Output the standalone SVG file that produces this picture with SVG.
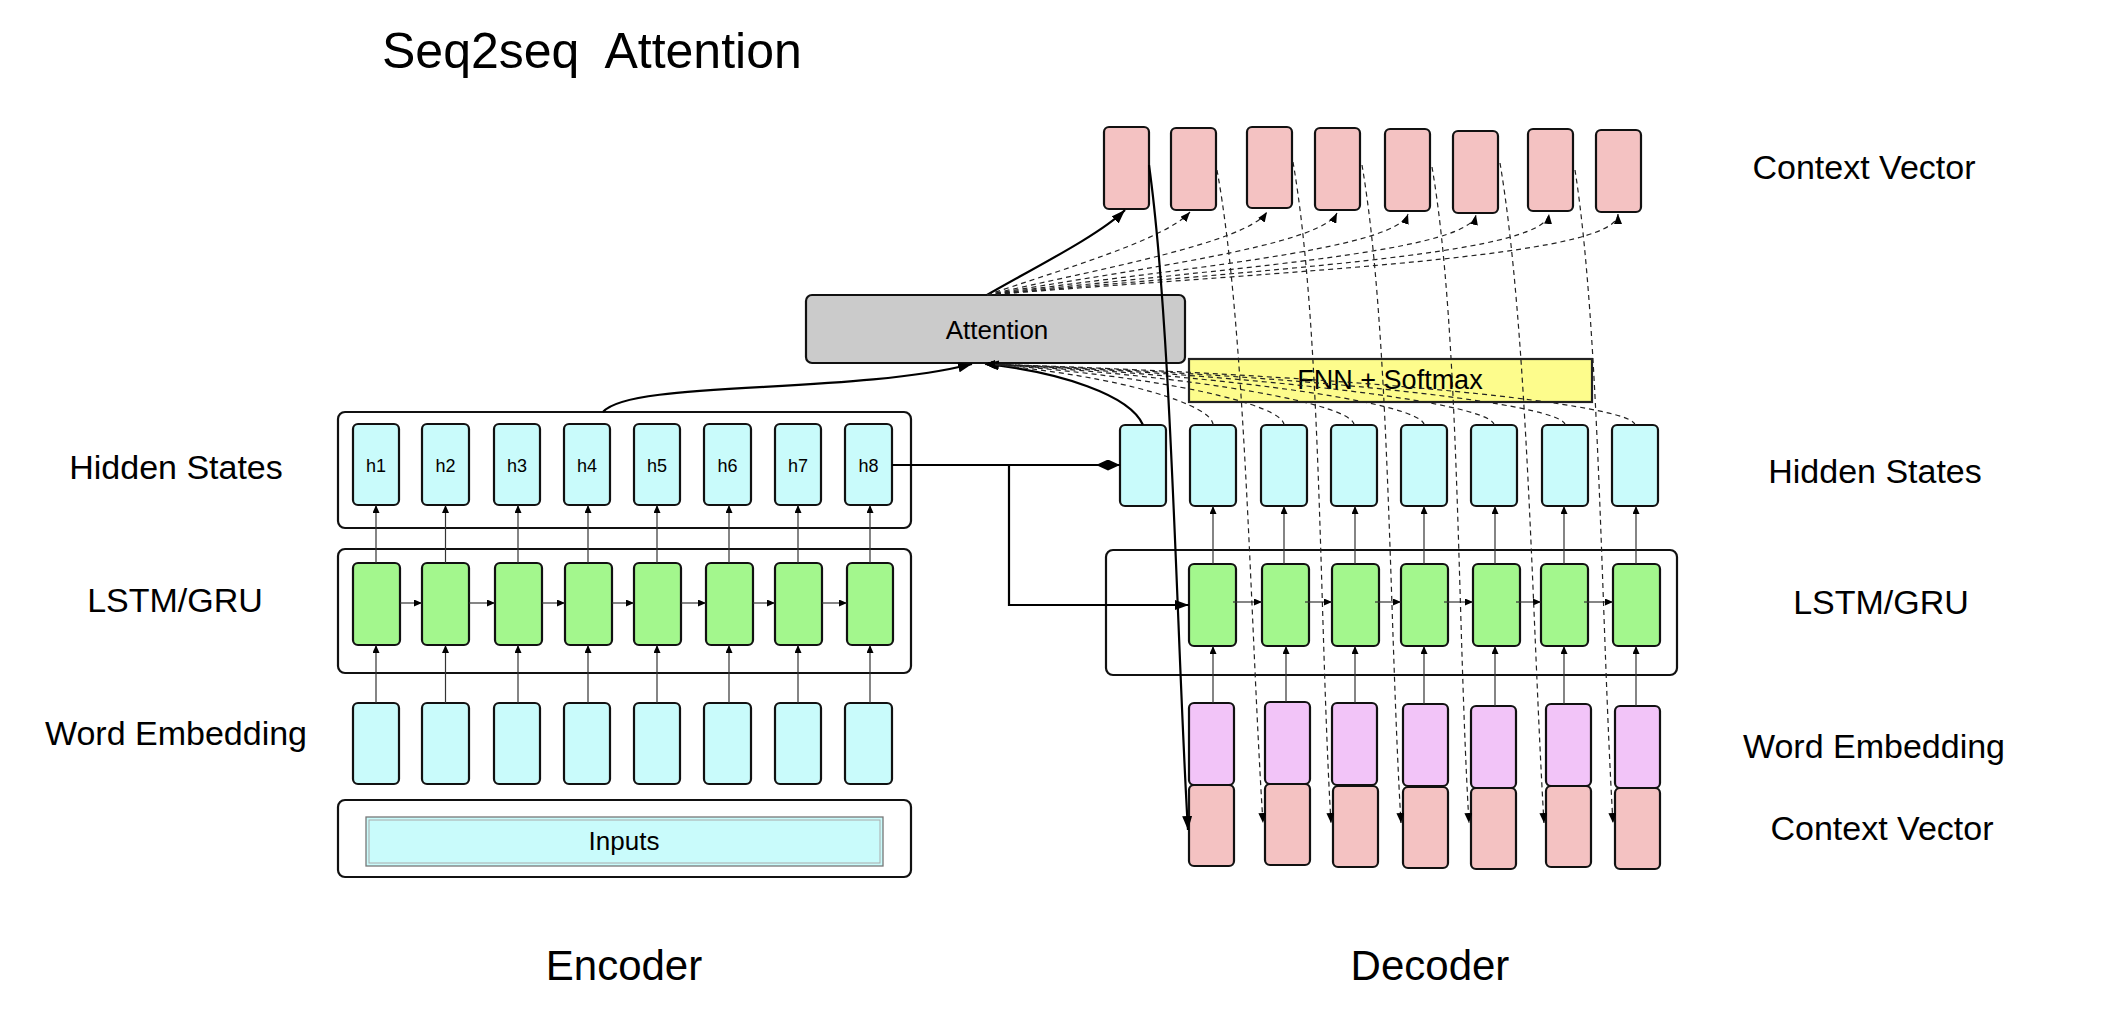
<svg xmlns="http://www.w3.org/2000/svg" width="2102" height="1030" viewBox="0 0 2102 1030">
<defs>
<style>
text{font-family:"Liberation Sans",Arial,Helvetica,sans-serif;fill:#000}
.lbl{font-size:34px;text-anchor:middle}
.big{font-size:42px;text-anchor:middle}
.hl{font-size:18px;text-anchor:middle}
.cell{stroke:#111;stroke-width:2.2}
.cy{fill:#c9fbfb}
.gr{fill:#a3f78d}
.pk{fill:#f2c4f8}
.sa{fill:#f4c2c2}
.box{fill:#fff;stroke:#111;stroke-width:2.2}
.thin{fill:none;stroke:#333;stroke-width:1.2}
.solid{fill:none;stroke:#000;stroke-width:2.2}
.dash{fill:none;stroke:#222;stroke-width:1.2;stroke-dasharray:5 4}
</style>
<marker id="ah" markerWidth="8" markerHeight="7" refX="8" refY="3.5" orient="auto" markerUnits="userSpaceOnUse"><path d="M0,0 L8,3.5 L0,7 z" fill="#000"/></marker>
<marker id="ahd" markerWidth="10" markerHeight="8" refX="10" refY="4" orient="auto" markerUnits="userSpaceOnUse"><path d="M0,0 L10,4 L0,8 z" fill="#000"/></marker>
<marker id="ahb" markerWidth="14" markerHeight="10" refX="14" refY="5" orient="auto" markerUnits="userSpaceOnUse"><path d="M0,0 L14,5 L0,10 z" fill="#000"/></marker>
<marker id="dia" markerWidth="24" markerHeight="11" refX="24" refY="5.5" orient="auto" markerUnits="userSpaceOnUse"><path d="M0,5.5 L12,0 L24,5.5 L12,11 z" fill="#000"/></marker>
</defs>
<rect x="0" y="0" width="2102" height="1030" fill="#fff"/>

<g id="title"><text x="382" y="68" font-size="50" xml:space="preserve">Seq2seq  Attention</text></g>

<g id="labels">
<text class="lbl" x="176" y="479">Hidden States</text>
<text class="lbl" x="175" y="612">LSTM/GRU</text>
<text class="lbl" x="176" y="745">Word Embedding</text>
<text class="lbl" x="1864" y="179">Context Vector</text>
<text class="lbl" x="1875" y="483">Hidden States</text>
<text class="lbl" x="1881" y="614">LSTM/GRU</text>
<text class="lbl" x="1874" y="758">Word Embedding</text>
<text class="lbl" x="1882" y="840">Context Vector</text>
<text class="big" x="624" y="980">Encoder</text>
<text class="big" x="1430" y="980">Decoder</text>
</g>

<g id="enc-containers">
<rect class="box" x="338" y="412" width="573" height="116" rx="7"/>
<rect class="box" x="338" y="549" width="573" height="124" rx="7"/>
<rect class="box" x="338" y="800" width="573" height="77" rx="7"/>
</g>
<g id="inputs">
<rect x="366" y="817" width="517" height="49" fill="#c9fbfb" stroke="#777" stroke-width="1.3"/>
<rect x="369" y="820" width="511" height="43" fill="none" stroke="#aaa" stroke-width="1"/>
<text x="624" y="850" font-size="26" text-anchor="middle">Inputs</text>
</g>

<g id="enc-hidden">
<rect class="cell cy" x="353" y="424" width="46" height="81" rx="5"/>
<rect class="cell cy" x="422" y="424" width="47" height="81" rx="5"/>
<rect class="cell cy" x="494" y="424" width="46" height="81" rx="5"/>
<rect class="cell cy" x="564" y="424" width="46" height="81" rx="5"/>
<rect class="cell cy" x="634" y="424" width="46" height="81" rx="5"/>
<rect class="cell cy" x="704" y="424" width="47" height="81" rx="5"/>
<rect class="cell cy" x="775" y="424" width="46" height="81" rx="5"/>
<rect class="cell cy" x="845" y="424" width="47" height="81" rx="5"/>
<text class="hl" x="376" y="472">h1</text>
<text class="hl" x="445.5" y="472">h2</text>
<text class="hl" x="517" y="472">h3</text>
<text class="hl" x="587" y="472">h4</text>
<text class="hl" x="657" y="472">h5</text>
<text class="hl" x="727.5" y="472">h6</text>
<text class="hl" x="798" y="472">h7</text>
<text class="hl" x="868.5" y="472">h8</text>
</g>

<g id="enc-lstm">
<rect class="cell gr" x="353" y="563" width="47" height="82" rx="5"/>
<rect class="cell gr" x="422" y="563" width="47" height="82" rx="5"/>
<rect class="cell gr" x="495" y="563" width="47" height="82" rx="5"/>
<rect class="cell gr" x="565" y="563" width="47" height="82" rx="5"/>
<rect class="cell gr" x="634" y="563" width="47" height="82" rx="5"/>
<rect class="cell gr" x="706" y="563" width="47" height="82" rx="5"/>
<rect class="cell gr" x="775" y="563" width="47" height="82" rx="5"/>
<rect class="cell gr" x="847" y="563" width="46" height="82" rx="5"/>
</g>

<g id="enc-embedding">
<rect class="cell cy" x="353" y="703" width="46" height="81" rx="5"/>
<rect class="cell cy" x="422" y="703" width="47" height="81" rx="5"/>
<rect class="cell cy" x="494" y="703" width="46" height="81" rx="5"/>
<rect class="cell cy" x="564" y="703" width="46" height="81" rx="5"/>
<rect class="cell cy" x="634" y="703" width="46" height="81" rx="5"/>
<rect class="cell cy" x="704" y="703" width="47" height="81" rx="5"/>
<rect class="cell cy" x="775" y="703" width="46" height="81" rx="5"/>
<rect class="cell cy" x="845" y="703" width="47" height="81" rx="5"/>
</g>

<g id="attention">
<rect x="806" y="295" width="379" height="68" rx="6" fill="#cbcbcb" stroke="#111" stroke-width="2.2"/>
<text x="997" y="339" font-size="26" text-anchor="middle">Attention</text>
</g>

<g id="fnn">
<rect x="1189" y="359" width="403" height="43" fill="#fdfc8c" stroke="#222" stroke-width="2.2"/>
<text x="1390" y="389" font-size="27" text-anchor="middle">FNN + Softmax</text>
</g>

<g id="dec-context-top">
<rect class="cell sa" x="1104" y="127" width="45" height="82" rx="5"/>
<rect class="cell sa" x="1171" y="128" width="45" height="82" rx="5"/>
<rect class="cell sa" x="1247" y="127" width="45" height="81" rx="5"/>
<rect class="cell sa" x="1315" y="128" width="45" height="82" rx="5"/>
<rect class="cell sa" x="1385" y="129" width="45" height="82" rx="5"/>
<rect class="cell sa" x="1453" y="131" width="45" height="82" rx="5"/>
<rect class="cell sa" x="1528" y="129" width="45" height="82" rx="5"/>
<rect class="cell sa" x="1596" y="130" width="45" height="82" rx="5"/>
</g>

<g id="dec-hidden">
<rect class="cell cy" x="1120" y="425" width="46" height="81" rx="5"/>
<rect class="cell cy" x="1190" y="425" width="46" height="81" rx="5"/>
<rect class="cell cy" x="1261" y="425" width="46" height="81" rx="5"/>
<rect class="cell cy" x="1331" y="425" width="46" height="81" rx="5"/>
<rect class="cell cy" x="1401" y="425" width="46" height="81" rx="5"/>
<rect class="cell cy" x="1471" y="425" width="46" height="81" rx="5"/>
<rect class="cell cy" x="1542" y="425" width="46" height="81" rx="5"/>
<rect class="cell cy" x="1612" y="425" width="46" height="81" rx="5"/>
</g>

<g id="dec-container"><rect class="box" x="1106" y="550" width="571" height="125" rx="7"/></g>

<g id="dec-lstm">
<rect class="cell gr" x="1189" y="564" width="47" height="82" rx="5"/>
<rect class="cell gr" x="1262" y="564" width="47" height="82" rx="5"/>
<rect class="cell gr" x="1332" y="564" width="47" height="82" rx="5"/>
<rect class="cell gr" x="1401" y="564" width="47" height="82" rx="5"/>
<rect class="cell gr" x="1473" y="564" width="47" height="82" rx="5"/>
<rect class="cell gr" x="1541" y="564" width="47" height="82" rx="5"/>
<rect class="cell gr" x="1613" y="564" width="47" height="82" rx="5"/>
</g>

<g id="dec-embedding">
<rect class="cell pk" x="1189" y="703" width="45" height="82" rx="5"/>
<rect class="cell pk" x="1265" y="702" width="45" height="82" rx="5"/>
<rect class="cell pk" x="1332" y="703" width="45" height="82" rx="5"/>
<rect class="cell pk" x="1403" y="704" width="45" height="82" rx="5"/>
<rect class="cell pk" x="1471" y="706" width="45" height="82" rx="5"/>
<rect class="cell pk" x="1546" y="704" width="45" height="82" rx="5"/>
<rect class="cell pk" x="1615" y="706" width="45" height="82" rx="5"/>
</g>

<g id="dec-context-bottom">
<rect class="cell sa" x="1189" y="785" width="45" height="81" rx="5"/>
<rect class="cell sa" x="1265" y="784" width="45" height="81" rx="5"/>
<rect class="cell sa" x="1333" y="786" width="45" height="81" rx="5"/>
<rect class="cell sa" x="1403" y="787" width="45" height="81" rx="5"/>
<rect class="cell sa" x="1471" y="788" width="45" height="81" rx="5"/>
<rect class="cell sa" x="1546" y="786" width="45" height="81" rx="5"/>
<rect class="cell sa" x="1615" y="788" width="45" height="81" rx="5"/>
</g>

<g id="connectors">
<!-- encoder vertical arrows -->
<g class="thin" marker-end="url(#ah)">
<path d="M376,563 V505"/><path d="M445.5,563 V505"/><path d="M518,563 V505"/><path d="M588,563 V505"/>
<path d="M657,563 V505"/><path d="M729,563 V505"/><path d="M798,563 V505"/><path d="M870,563 V505"/>
<path d="M376,703 V645"/><path d="M445.5,703 V645"/><path d="M518,703 V645"/><path d="M588,703 V645"/>
<path d="M657,703 V645"/><path d="M729,703 V645"/><path d="M798,703 V645"/><path d="M870,703 V645"/>
<path d="M400,603 H422"/><path d="M469,603 H495"/><path d="M542,603 H565"/><path d="M612,603 H634"/>
<path d="M681,603 H706"/><path d="M753,603 H775"/><path d="M822,603 H847"/>
</g>
<!-- decoder vertical arrows -->
<g class="thin" marker-end="url(#ah)">
<path d="M1213,564 V506"/><path d="M1284,564 V506"/><path d="M1355,564 V506"/><path d="M1424,564 V506"/>
<path d="M1495,564 V506"/><path d="M1564,564 V506"/><path d="M1636,564 V506"/>
<path d="M1213,703 V646"/><path d="M1286,702 V646"/><path d="M1355,703 V646"/><path d="M1424,704 V646"/>
<path d="M1495,706 V646"/><path d="M1564,704 V646"/><path d="M1636,706 V646"/>
<path d="M1233,602 H1262"/><path d="M1305,602 H1332"/><path d="M1375,602 H1401"/><path d="M1444,602 H1473"/>
<path d="M1516,602 H1541"/><path d="M1584,602 H1613"/>
</g>
<!-- encoder to decoder -->
<path class="solid" d="M892,465 H1120" stroke-width="2.5" marker-end="url(#dia)"/>
<path class="solid" d="M1009,465 V605 H1189" stroke-width="2.5" marker-end="url(#ahb)"/>
<!-- into attention -->
<path class="solid" d="M603,412 C630,380 850,395 972,364" marker-end="url(#ahb)"/>
<path class="solid" d="M1143,425 C1130,395 1060,372 985,364" marker-end="url(#ahb)"/>
<g class="dash" marker-end="url(#ahd)">
<path d="M1213,425 C1213,405 1122,376 985,364"/>
<path d="M1284,425 C1284,405 1164,376 985,364"/>
<path d="M1354,425 C1354,405 1206,376 985,364"/>
<path d="M1424,425 C1424,405 1248,376 985,364"/>
<path d="M1494,425 C1494,405 1290,376 985,364"/>
<path d="M1565,425 C1565,405 1333,376 985,364"/>
<path d="M1635,425 C1635,405 1375,376 985,364"/>
</g>
<!-- attention to top context vectors -->
<path class="solid" d="M987,295 C1030,270 1100,235 1125,210" marker-end="url(#ahb)"/>
<g class="dash" marker-end="url(#ahd)">
<path d="M987,295 C1060,270 1165,240 1190,212"/>
<path d="M987,295 C1095,270 1246,243 1267,212"/>
<path d="M987,295 C1130,270 1321,246 1337,213"/>
<path d="M987,295 C1168,270 1396,250 1408,214"/>
<path d="M987,295 C1209,270 1468,253 1476,215"/>
<path d="M987,295 C1255,270 1545,255 1549,214"/>
<path d="M987,295 C1302,270 1618,257 1618,214"/>
</g>
<!-- top context vectors to decoder inputs -->
<path class="solid" d="M1149,165 C1172,330 1177,650 1188,830" marker-end="url(#ahb)"/>
<g class="dash" marker-end="url(#ahd)">
<path d="M1217,170 C1246,330 1250,620 1263,823"/>
<path d="M1293,162 C1322,330 1319,620 1331,823"/>
<path d="M1362,165 C1390,330 1389,620 1401,823"/>
<path d="M1432,167 C1460,330 1457,620 1469,823"/>
<path d="M1500,163 C1528,330 1532,620 1544,823"/>
<path d="M1575,170 C1600,330 1601,620 1613,823"/>
</g>
</g>
</svg>
